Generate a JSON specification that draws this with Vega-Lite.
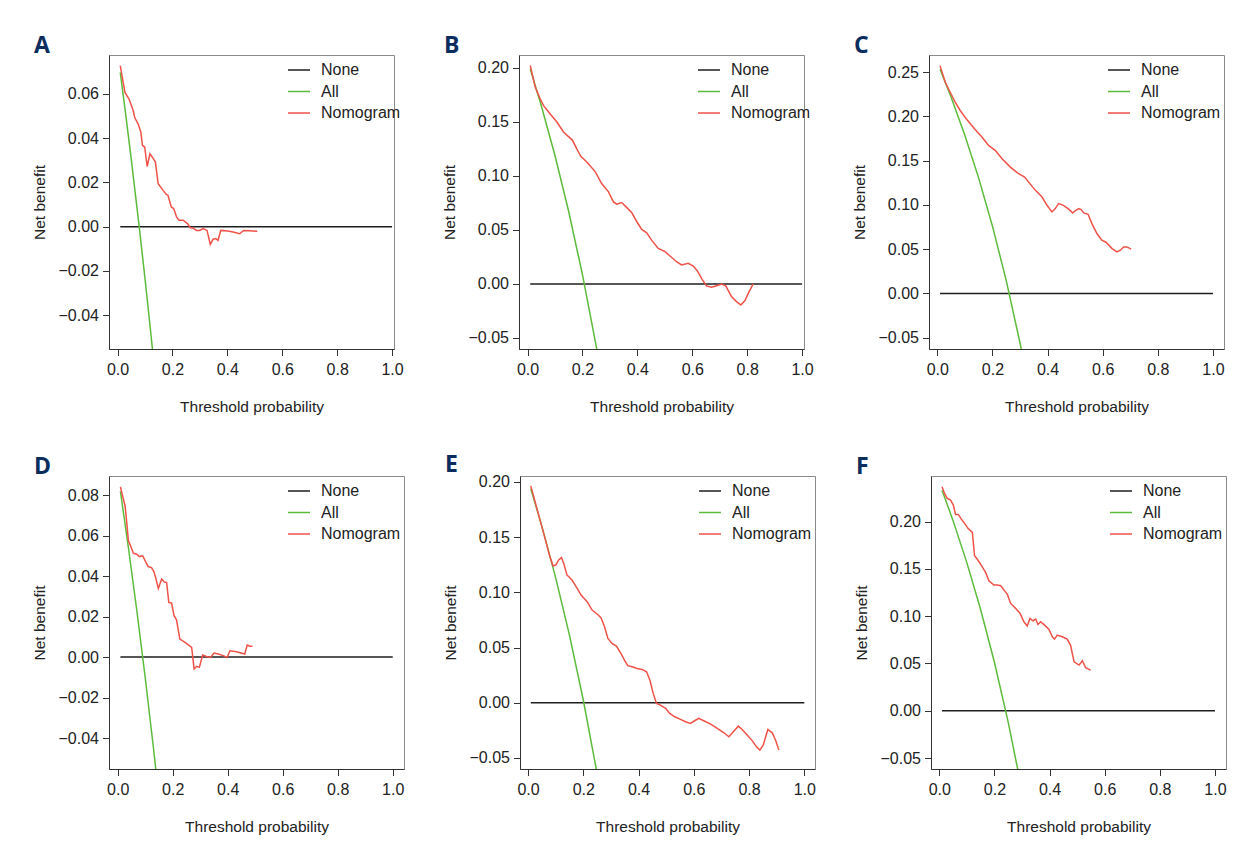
{
  "$schema": "https://vega.github.io/schema/vega-lite/v6.json",
  "padding": {"left": 31, "top": 34, "right": 5, "bottom": 5},
  "background": "white",
  "config": {
    "view": {"stroke": "#8a8a8a", "strokeWidth": 1},
    "axis": {
      "labelFont": "Liberation Sans", "titleFont": "Liberation Sans",
      "labelFontSize": 16, "titleFontSize": 15.5, "titleFontWeight": "normal",
      "labelColor": "#222", "titleColor": "#222",
      "tickColor": "#333", "domainColor": "#333", "tickSize": 6.5, "grid": false
    },
    "axisX": {"titlePadding": 22, "labelPadding": 6},
    "axisY": {"titlePadding": 11, "labelPadding": 4},
    "legend": {
      "orient": "none", "legendX": 178, "legendY": 3, "title": null,
      "symbolType": "stroke", "symbolSize": 484, "symbolStrokeWidth": 1.6,
      "labelFont": "Liberation Sans", "labelFontSize": 16, "labelColor": "#222", "labelOffset": 10,
      "padding": 0, "rowPadding": 1.5
    },
    "title": {
      "anchor": "start", "frame": "group", "dx": -75, "offset": -3, "baseline": "alphabetic",
      "font": "Open Sans", "fontSize": 23, "fontWeight": "bold", "color": "#0b2d5e"
    },
    "line": {"strokeWidth": 1.5}
  },
  "datasets": {
    "dca": [
      {"panel":"A","series":"None","threshold":0.01,"net_benefit":0},
      {"panel":"A","series":"None","threshold":1.0,"net_benefit":0},
      {"panel":"A","series":"All","threshold":0.01,"net_benefit":0.0697},
      {"panel":"A","series":"All","threshold":0.03,"net_benefit":0.0505},
      {"panel":"A","series":"All","threshold":0.05,"net_benefit":0.0305},
      {"panel":"A","series":"All","threshold":0.08,"net_benefit":-0.0011},
      {"panel":"A","series":"All","threshold":0.10,"net_benefit":-0.0233},
      {"panel":"A","series":"All","threshold":0.12,"net_benefit":-0.0466},
      {"panel":"A","series":"All","threshold":0.14,"net_benefit":-0.0709},
      {"panel":"A","series":"Nomogram","threshold":0.01,"net_benefit":0.0728},
      {"panel":"A","series":"Nomogram","threshold":0.027,"net_benefit":0.0607},
      {"panel":"A","series":"Nomogram","threshold":0.042,"net_benefit":0.0577},
      {"panel":"A","series":"Nomogram","threshold":0.057,"net_benefit":0.0525},
      {"panel":"A","series":"Nomogram","threshold":0.063,"net_benefit":0.0492},
      {"panel":"A","series":"Nomogram","threshold":0.075,"net_benefit":0.0465},
      {"panel":"A","series":"Nomogram","threshold":0.085,"net_benefit":0.0427},
      {"panel":"A","series":"Nomogram","threshold":0.091,"net_benefit":0.0367},
      {"panel":"A","series":"Nomogram","threshold":0.099,"net_benefit":0.036},
      {"panel":"A","series":"Nomogram","threshold":0.108,"net_benefit":0.0272},
      {"panel":"A","series":"Nomogram","threshold":0.118,"net_benefit":0.0329},
      {"panel":"A","series":"Nomogram","threshold":0.127,"net_benefit":0.0314},
      {"panel":"A","series":"Nomogram","threshold":0.138,"net_benefit":0.0292},
      {"panel":"A","series":"Nomogram","threshold":0.148,"net_benefit":0.0194},
      {"panel":"A","series":"Nomogram","threshold":0.166,"net_benefit":0.0164},
      {"panel":"A","series":"Nomogram","threshold":0.178,"net_benefit":0.0146},
      {"panel":"A","series":"Nomogram","threshold":0.184,"net_benefit":0.0141},
      {"panel":"A","series":"Nomogram","threshold":0.196,"net_benefit":0.0089},
      {"panel":"A","series":"Nomogram","threshold":0.205,"net_benefit":0.0081},
      {"panel":"A","series":"Nomogram","threshold":0.215,"net_benefit":0.0044},
      {"panel":"A","series":"Nomogram","threshold":0.224,"net_benefit":0.0029},
      {"panel":"A","series":"Nomogram","threshold":0.239,"net_benefit":0.0029},
      {"panel":"A","series":"Nomogram","threshold":0.255,"net_benefit":0.0014},
      {"panel":"A","series":"Nomogram","threshold":0.265,"net_benefit":-0.0005},
      {"panel":"A","series":"Nomogram","threshold":0.275,"net_benefit":-0.0006},
      {"panel":"A","series":"Nomogram","threshold":0.287,"net_benefit":-0.0017},
      {"panel":"A","series":"Nomogram","threshold":0.299,"net_benefit":-0.0017},
      {"panel":"A","series":"Nomogram","threshold":0.312,"net_benefit":-0.0009},
      {"panel":"A","series":"Nomogram","threshold":0.326,"net_benefit":-0.0017},
      {"panel":"A","series":"Nomogram","threshold":0.338,"net_benefit":-0.008},
      {"panel":"A","series":"Nomogram","threshold":0.348,"net_benefit":-0.0057},
      {"panel":"A","series":"Nomogram","threshold":0.358,"net_benefit":-0.0054},
      {"panel":"A","series":"Nomogram","threshold":0.366,"net_benefit":-0.0062},
      {"panel":"A","series":"Nomogram","threshold":0.376,"net_benefit":-0.0017},
      {"panel":"A","series":"Nomogram","threshold":0.402,"net_benefit":-0.002},
      {"panel":"A","series":"Nomogram","threshold":0.421,"net_benefit":-0.0024},
      {"panel":"A","series":"Nomogram","threshold":0.445,"net_benefit":-0.0032},
      {"panel":"A","series":"Nomogram","threshold":0.459,"net_benefit":-0.0017},
      {"panel":"A","series":"Nomogram","threshold":0.481,"net_benefit":-0.0018},
      {"panel":"A","series":"Nomogram","threshold":0.509,"net_benefit":-0.0021},

      {"panel":"B","series":"None","threshold":0.01,"net_benefit":0},
      {"panel":"B","series":"None","threshold":1.0,"net_benefit":0},
      {"panel":"B","series":"All","threshold":0.01,"net_benefit":0.199},
      {"panel":"B","series":"All","threshold":0.05,"net_benefit":0.1653},
      {"panel":"B","series":"All","threshold":0.10,"net_benefit":0.1189},
      {"panel":"B","series":"All","threshold":0.15,"net_benefit":0.0671},
      {"panel":"B","series":"All","threshold":0.20,"net_benefit":0.0088},
      {"panel":"B","series":"All","threshold":0.25,"net_benefit":-0.0573},
      {"panel":"B","series":"All","threshold":0.27,"net_benefit":-0.0863},
      {"panel":"B","series":"Nomogram","threshold":0.01,"net_benefit":0.2023},
      {"panel":"B","series":"Nomogram","threshold":0.028,"net_benefit":0.1823},
      {"panel":"B","series":"Nomogram","threshold":0.046,"net_benefit":0.1715},
      {"panel":"B","series":"Nomogram","threshold":0.058,"net_benefit":0.1653},
      {"panel":"B","series":"Nomogram","threshold":0.082,"net_benefit":0.1576},
      {"panel":"B","series":"Nomogram","threshold":0.107,"net_benefit":0.15},
      {"panel":"B","series":"Nomogram","threshold":0.131,"net_benefit":0.1407},
      {"panel":"B","series":"Nomogram","threshold":0.164,"net_benefit":0.133},
      {"panel":"B","series":"Nomogram","threshold":0.179,"net_benefit":0.1253},
      {"panel":"B","series":"Nomogram","threshold":0.194,"net_benefit":0.1182},
      {"panel":"B","series":"Nomogram","threshold":0.216,"net_benefit":0.113},
      {"panel":"B","series":"Nomogram","threshold":0.247,"net_benefit":0.1038},
      {"panel":"B","series":"Nomogram","threshold":0.27,"net_benefit":0.093},
      {"panel":"B","series":"Nomogram","threshold":0.295,"net_benefit":0.0853},
      {"panel":"B","series":"Nomogram","threshold":0.313,"net_benefit":0.076},
      {"panel":"B","series":"Nomogram","threshold":0.325,"net_benefit":0.0739},
      {"panel":"B","series":"Nomogram","threshold":0.343,"net_benefit":0.0754},
      {"panel":"B","series":"Nomogram","threshold":0.359,"net_benefit":0.0714},
      {"panel":"B","series":"Nomogram","threshold":0.38,"net_benefit":0.0659},
      {"panel":"B","series":"Nomogram","threshold":0.398,"net_benefit":0.0576},
      {"panel":"B","series":"Nomogram","threshold":0.416,"net_benefit":0.0505},
      {"panel":"B","series":"Nomogram","threshold":0.434,"net_benefit":0.0474},
      {"panel":"B","series":"Nomogram","threshold":0.452,"net_benefit":0.0406},
      {"panel":"B","series":"Nomogram","threshold":0.476,"net_benefit":0.0329},
      {"panel":"B","series":"Nomogram","threshold":0.501,"net_benefit":0.0299},
      {"panel":"B","series":"Nomogram","threshold":0.519,"net_benefit":0.0259},
      {"panel":"B","series":"Nomogram","threshold":0.543,"net_benefit":0.0206},
      {"panel":"B","series":"Nomogram","threshold":0.561,"net_benefit":0.0176},
      {"panel":"B","series":"Nomogram","threshold":0.585,"net_benefit":0.0191},
      {"panel":"B","series":"Nomogram","threshold":0.604,"net_benefit":0.0166},
      {"panel":"B","series":"Nomogram","threshold":0.618,"net_benefit":0.0123},
      {"panel":"B","series":"Nomogram","threshold":0.636,"net_benefit":0.0043},
      {"panel":"B","series":"Nomogram","threshold":0.652,"net_benefit":-0.0018},
      {"panel":"B","series":"Nomogram","threshold":0.67,"net_benefit":-0.0031},
      {"panel":"B","series":"Nomogram","threshold":0.686,"net_benefit":-0.0018},
      {"panel":"B","series":"Nomogram","threshold":0.707,"net_benefit":0.0},
      {"panel":"B","series":"Nomogram","threshold":0.722,"net_benefit":-0.0018},
      {"panel":"B","series":"Nomogram","threshold":0.743,"net_benefit":-0.0117},
      {"panel":"B","series":"Nomogram","threshold":0.761,"net_benefit":-0.0163},
      {"panel":"B","series":"Nomogram","threshold":0.777,"net_benefit":-0.0194},
      {"panel":"B","series":"Nomogram","threshold":0.792,"net_benefit":-0.0154},
      {"panel":"B","series":"Nomogram","threshold":0.807,"net_benefit":-0.0071},
      {"panel":"B","series":"Nomogram","threshold":0.822,"net_benefit":0.0},

      {"panel":"C","series":"None","threshold":0.01,"net_benefit":0},
      {"panel":"C","series":"None","threshold":1.0,"net_benefit":0},
      {"panel":"C","series":"All","threshold":0.01,"net_benefit":0.2535},
      {"panel":"C","series":"All","threshold":0.05,"net_benefit":0.2221},
      {"panel":"C","series":"All","threshold":0.10,"net_benefit":0.1789},
      {"panel":"C","series":"All","threshold":0.15,"net_benefit":0.1306},
      {"panel":"C","series":"All","threshold":0.20,"net_benefit":0.0763},
      {"panel":"C","series":"All","threshold":0.25,"net_benefit":0.0147},
      {"panel":"C","series":"All","threshold":0.30,"net_benefit":-0.0557},
      {"panel":"C","series":"All","threshold":0.32,"net_benefit":-0.0868},
      {"panel":"C","series":"Nomogram","threshold":0.01,"net_benefit":0.2575},
      {"panel":"C","series":"Nomogram","threshold":0.029,"net_benefit":0.2387},
      {"panel":"C","series":"Nomogram","threshold":0.047,"net_benefit":0.2274},
      {"panel":"C","series":"Nomogram","threshold":0.065,"net_benefit":0.2161},
      {"panel":"C","series":"Nomogram","threshold":0.083,"net_benefit":0.2068},
      {"panel":"C","series":"Nomogram","threshold":0.108,"net_benefit":0.1962},
      {"panel":"C","series":"Nomogram","threshold":0.138,"net_benefit":0.185},
      {"panel":"C","series":"Nomogram","threshold":0.162,"net_benefit":0.1767},
      {"panel":"C","series":"Nomogram","threshold":0.186,"net_benefit":0.1673},
      {"panel":"C","series":"Nomogram","threshold":0.21,"net_benefit":0.1617},
      {"panel":"C","series":"Nomogram","threshold":0.235,"net_benefit":0.1522},
      {"panel":"C","series":"Nomogram","threshold":0.265,"net_benefit":0.1428},
      {"panel":"C","series":"Nomogram","threshold":0.295,"net_benefit":0.1353},
      {"panel":"C","series":"Nomogram","threshold":0.317,"net_benefit":0.1316},
      {"panel":"C","series":"Nomogram","threshold":0.338,"net_benefit":0.1233},
      {"panel":"C","series":"Nomogram","threshold":0.356,"net_benefit":0.1165},
      {"panel":"C","series":"Nomogram","threshold":0.38,"net_benefit":0.109},
      {"panel":"C","series":"Nomogram","threshold":0.398,"net_benefit":0.0996},
      {"panel":"C","series":"Nomogram","threshold":0.416,"net_benefit":0.0921},
      {"panel":"C","series":"Nomogram","threshold":0.428,"net_benefit":0.0959},
      {"panel":"C","series":"Nomogram","threshold":0.44,"net_benefit":0.1015},
      {"panel":"C","series":"Nomogram","threshold":0.458,"net_benefit":0.0996},
      {"panel":"C","series":"Nomogram","threshold":0.479,"net_benefit":0.0947},
      {"panel":"C","series":"Nomogram","threshold":0.491,"net_benefit":0.091},
      {"panel":"C","series":"Nomogram","threshold":0.503,"net_benefit":0.094},
      {"panel":"C","series":"Nomogram","threshold":0.513,"net_benefit":0.0959},
      {"panel":"C","series":"Nomogram","threshold":0.522,"net_benefit":0.0947},
      {"panel":"C","series":"Nomogram","threshold":0.531,"net_benefit":0.091},
      {"panel":"C","series":"Nomogram","threshold":0.547,"net_benefit":0.0895},
      {"panel":"C","series":"Nomogram","threshold":0.561,"net_benefit":0.0789},
      {"panel":"C","series":"Nomogram","threshold":0.579,"net_benefit":0.0677},
      {"panel":"C","series":"Nomogram","threshold":0.597,"net_benefit":0.0601},
      {"panel":"C","series":"Nomogram","threshold":0.612,"net_benefit":0.0579},
      {"panel":"C","series":"Nomogram","threshold":0.634,"net_benefit":0.0507},
      {"panel":"C","series":"Nomogram","threshold":0.652,"net_benefit":0.047},
      {"panel":"C","series":"Nomogram","threshold":0.664,"net_benefit":0.0489},
      {"panel":"C","series":"Nomogram","threshold":0.676,"net_benefit":0.0526},
      {"panel":"C","series":"Nomogram","threshold":0.688,"net_benefit":0.0526},
      {"panel":"C","series":"Nomogram","threshold":0.703,"net_benefit":0.05},

      {"panel":"D","series":"None","threshold":0.01,"net_benefit":0},
      {"panel":"D","series":"None","threshold":1.0,"net_benefit":0},
      {"panel":"D","series":"All","threshold":0.01,"net_benefit":0.0818},
      {"panel":"D","series":"All","threshold":0.04,"net_benefit":0.0531},
      {"panel":"D","series":"All","threshold":0.07,"net_benefit":0.0226},
      {"panel":"D","series":"All","threshold":0.10,"net_benefit":-0.01},
      {"panel":"D","series":"All","threshold":0.13,"net_benefit":-0.0448},
      {"panel":"D","series":"All","threshold":0.15,"net_benefit":-0.0694},
      {"panel":"D","series":"Nomogram","threshold":0.01,"net_benefit":0.084},
      {"panel":"D","series":"Nomogram","threshold":0.018,"net_benefit":0.0795},
      {"panel":"D","series":"Nomogram","threshold":0.027,"net_benefit":0.0746},
      {"panel":"D","series":"Nomogram","threshold":0.033,"net_benefit":0.0664},
      {"panel":"D","series":"Nomogram","threshold":0.039,"net_benefit":0.0574},
      {"panel":"D","series":"Nomogram","threshold":0.047,"net_benefit":0.0549},
      {"panel":"D","series":"Nomogram","threshold":0.057,"net_benefit":0.0513},
      {"panel":"D","series":"Nomogram","threshold":0.069,"net_benefit":0.0508},
      {"panel":"D","series":"Nomogram","threshold":0.079,"net_benefit":0.0496},
      {"panel":"D","series":"Nomogram","threshold":0.091,"net_benefit":0.05},
      {"panel":"D","series":"Nomogram","threshold":0.102,"net_benefit":0.047},
      {"panel":"D","series":"Nomogram","threshold":0.111,"net_benefit":0.0447},
      {"panel":"D","series":"Nomogram","threshold":0.123,"net_benefit":0.0442},
      {"panel":"D","series":"Nomogram","threshold":0.132,"net_benefit":0.0421},
      {"panel":"D","series":"Nomogram","threshold":0.138,"net_benefit":0.0393},
      {"panel":"D","series":"Nomogram","threshold":0.148,"net_benefit":0.0339},
      {"panel":"D","series":"Nomogram","threshold":0.16,"net_benefit":0.0385},
      {"panel":"D","series":"Nomogram","threshold":0.169,"net_benefit":0.0371},
      {"panel":"D","series":"Nomogram","threshold":0.178,"net_benefit":0.0368},
      {"panel":"D","series":"Nomogram","threshold":0.186,"net_benefit":0.027},
      {"panel":"D","series":"Nomogram","threshold":0.196,"net_benefit":0.0266},
      {"panel":"D","series":"Nomogram","threshold":0.205,"net_benefit":0.0204},
      {"panel":"D","series":"Nomogram","threshold":0.214,"net_benefit":0.0184},
      {"panel":"D","series":"Nomogram","threshold":0.226,"net_benefit":0.0089},
      {"panel":"D","series":"Nomogram","threshold":0.245,"net_benefit":0.0072},
      {"panel":"D","series":"Nomogram","threshold":0.269,"net_benefit":0.0048},
      {"panel":"D","series":"Nomogram","threshold":0.278,"net_benefit":-0.0059},
      {"panel":"D","series":"Nomogram","threshold":0.287,"net_benefit":-0.0046},
      {"panel":"D","series":"Nomogram","threshold":0.297,"net_benefit":-0.0051},
      {"panel":"D","series":"Nomogram","threshold":0.309,"net_benefit":0.001},
      {"panel":"D","series":"Nomogram","threshold":0.323,"net_benefit":0.0003},
      {"panel":"D","series":"Nomogram","threshold":0.338,"net_benefit":-0.0002},
      {"panel":"D","series":"Nomogram","threshold":0.35,"net_benefit":0.002},
      {"panel":"D","series":"Nomogram","threshold":0.366,"net_benefit":0.0015},
      {"panel":"D","series":"Nomogram","threshold":0.384,"net_benefit":0.0007},
      {"panel":"D","series":"Nomogram","threshold":0.398,"net_benefit":-0.0002},
      {"panel":"D","series":"Nomogram","threshold":0.408,"net_benefit":0.0031},
      {"panel":"D","series":"Nomogram","threshold":0.432,"net_benefit":0.0026},
      {"panel":"D","series":"Nomogram","threshold":0.462,"net_benefit":0.0015},
      {"panel":"D","series":"Nomogram","threshold":0.471,"net_benefit":0.0059},
      {"panel":"D","series":"Nomogram","threshold":0.481,"net_benefit":0.0053},
      {"panel":"D","series":"Nomogram","threshold":0.49,"net_benefit":0.0053},

      {"panel":"E","series":"None","threshold":0.01,"net_benefit":0},
      {"panel":"E","series":"None","threshold":1.0,"net_benefit":0},
      {"panel":"E","series":"All","threshold":0.01,"net_benefit":0.1939},
      {"panel":"E","series":"All","threshold":0.05,"net_benefit":0.16},
      {"panel":"E","series":"All","threshold":0.10,"net_benefit":0.1133},
      {"panel":"E","series":"All","threshold":0.15,"net_benefit":0.0612},
      {"panel":"E","series":"All","threshold":0.20,"net_benefit":0.0025},
      {"panel":"E","series":"All","threshold":0.25,"net_benefit":-0.064},
      {"panel":"E","series":"Nomogram","threshold":0.01,"net_benefit":0.1965},
      {"panel":"E","series":"Nomogram","threshold":0.027,"net_benefit":0.1808},
      {"panel":"E","series":"Nomogram","threshold":0.045,"net_benefit":0.1641},
      {"panel":"E","series":"Nomogram","threshold":0.063,"net_benefit":0.1475},
      {"panel":"E","series":"Nomogram","threshold":0.079,"net_benefit":0.1324},
      {"panel":"E","series":"Nomogram","threshold":0.091,"net_benefit":0.1239},
      {"panel":"E","series":"Nomogram","threshold":0.101,"net_benefit":0.1248},
      {"panel":"E","series":"Nomogram","threshold":0.111,"net_benefit":0.1294},
      {"panel":"E","series":"Nomogram","threshold":0.121,"net_benefit":0.1315},
      {"panel":"E","series":"Nomogram","threshold":0.129,"net_benefit":0.1264},
      {"panel":"E","series":"Nomogram","threshold":0.141,"net_benefit":0.1158},
      {"panel":"E","series":"Nomogram","threshold":0.159,"net_benefit":0.1112},
      {"panel":"E","series":"Nomogram","threshold":0.178,"net_benefit":0.1037},
      {"panel":"E","series":"Nomogram","threshold":0.192,"net_benefit":0.0976},
      {"panel":"E","series":"Nomogram","threshold":0.214,"net_benefit":0.0916},
      {"panel":"E","series":"Nomogram","threshold":0.232,"net_benefit":0.084},
      {"panel":"E","series":"Nomogram","threshold":0.25,"net_benefit":0.0804},
      {"panel":"E","series":"Nomogram","threshold":0.264,"net_benefit":0.0771},
      {"panel":"E","series":"Nomogram","threshold":0.277,"net_benefit":0.0689},
      {"panel":"E","series":"Nomogram","threshold":0.289,"net_benefit":0.0583},
      {"panel":"E","series":"Nomogram","threshold":0.304,"net_benefit":0.0538},
      {"panel":"E","series":"Nomogram","threshold":0.32,"net_benefit":0.0514},
      {"panel":"E","series":"Nomogram","threshold":0.335,"net_benefit":0.0453},
      {"panel":"E","series":"Nomogram","threshold":0.349,"net_benefit":0.0387},
      {"panel":"E","series":"Nomogram","threshold":0.361,"net_benefit":0.0336},
      {"panel":"E","series":"Nomogram","threshold":0.377,"net_benefit":0.0326},
      {"panel":"E","series":"Nomogram","threshold":0.395,"net_benefit":0.0311},
      {"panel":"E","series":"Nomogram","threshold":0.413,"net_benefit":0.0302},
      {"panel":"E","series":"Nomogram","threshold":0.429,"net_benefit":0.0281},
      {"panel":"E","series":"Nomogram","threshold":0.441,"net_benefit":0.0206},
      {"panel":"E","series":"Nomogram","threshold":0.453,"net_benefit":0.0085},
      {"panel":"E","series":"Nomogram","threshold":0.465,"net_benefit":-0.0006},
      {"panel":"E","series":"Nomogram","threshold":0.479,"net_benefit":-0.0021},
      {"panel":"E","series":"Nomogram","threshold":0.498,"net_benefit":-0.0051},
      {"panel":"E","series":"Nomogram","threshold":0.513,"net_benefit":-0.0097},
      {"panel":"E","series":"Nomogram","threshold":0.531,"net_benefit":-0.0127},
      {"panel":"E","series":"Nomogram","threshold":0.552,"net_benefit":-0.0151},
      {"panel":"E","series":"Nomogram","threshold":0.57,"net_benefit":-0.0172},
      {"panel":"E","series":"Nomogram","threshold":0.588,"net_benefit":-0.0187},
      {"panel":"E","series":"Nomogram","threshold":0.603,"net_benefit":-0.0163},
      {"panel":"E","series":"Nomogram","threshold":0.618,"net_benefit":-0.0142},
      {"panel":"E","series":"Nomogram","threshold":0.636,"net_benefit":-0.0163},
      {"panel":"E","series":"Nomogram","threshold":0.661,"net_benefit":-0.0193},
      {"panel":"E","series":"Nomogram","threshold":0.685,"net_benefit":-0.0233},
      {"panel":"E","series":"Nomogram","threshold":0.709,"net_benefit":-0.0272},
      {"panel":"E","series":"Nomogram","threshold":0.727,"net_benefit":-0.0308},
      {"panel":"E","series":"Nomogram","threshold":0.743,"net_benefit":-0.0263},
      {"panel":"E","series":"Nomogram","threshold":0.761,"net_benefit":-0.0212},
      {"panel":"E","series":"Nomogram","threshold":0.775,"net_benefit":-0.0242},
      {"panel":"E","series":"Nomogram","threshold":0.793,"net_benefit":-0.0293},
      {"panel":"E","series":"Nomogram","threshold":0.812,"net_benefit":-0.0345},
      {"panel":"E","series":"Nomogram","threshold":0.827,"net_benefit":-0.0399},
      {"panel":"E","series":"Nomogram","threshold":0.839,"net_benefit":-0.0429},
      {"panel":"E","series":"Nomogram","threshold":0.851,"net_benefit":-0.0384},
      {"panel":"E","series":"Nomogram","threshold":0.868,"net_benefit":-0.0242},
      {"panel":"E","series":"Nomogram","threshold":0.884,"net_benefit":-0.0272},
      {"panel":"E","series":"Nomogram","threshold":0.896,"net_benefit":-0.0339},
      {"panel":"E","series":"Nomogram","threshold":0.908,"net_benefit":-0.0429},

      {"panel":"F","series":"None","threshold":0.01,"net_benefit":0},
      {"panel":"F","series":"None","threshold":1.0,"net_benefit":0},
      {"panel":"F","series":"All","threshold":0.01,"net_benefit":0.2333},
      {"panel":"F","series":"All","threshold":0.05,"net_benefit":0.2011},
      {"panel":"F","series":"All","threshold":0.10,"net_benefit":0.1567},
      {"panel":"F","series":"All","threshold":0.15,"net_benefit":0.1071},
      {"panel":"F","series":"All","threshold":0.20,"net_benefit":0.0513},
      {"panel":"F","series":"All","threshold":0.25,"net_benefit":-0.012},
      {"panel":"F","series":"All","threshold":0.30,"net_benefit":-0.0843},
      {"panel":"F","series":"Nomogram","threshold":0.01,"net_benefit":0.237},
      {"panel":"F","series":"Nomogram","threshold":0.019,"net_benefit":0.2299},
      {"panel":"F","series":"Nomogram","threshold":0.029,"net_benefit":0.2246},
      {"panel":"F","series":"Nomogram","threshold":0.041,"net_benefit":0.2228},
      {"panel":"F","series":"Nomogram","threshold":0.051,"net_benefit":0.2176},
      {"panel":"F","series":"Nomogram","threshold":0.059,"net_benefit":0.2077},
      {"panel":"F","series":"Nomogram","threshold":0.069,"net_benefit":0.2077},
      {"panel":"F","series":"Nomogram","threshold":0.08,"net_benefit":0.2027},
      {"panel":"F","series":"Nomogram","threshold":0.092,"net_benefit":0.1982},
      {"panel":"F","series":"Nomogram","threshold":0.104,"net_benefit":0.1929},
      {"panel":"F","series":"Nomogram","threshold":0.12,"net_benefit":0.1886},
      {"panel":"F","series":"Nomogram","threshold":0.128,"net_benefit":0.164},
      {"panel":"F","series":"Nomogram","threshold":0.14,"net_benefit":0.1594},
      {"panel":"F","series":"Nomogram","threshold":0.152,"net_benefit":0.1541},
      {"panel":"F","series":"Nomogram","threshold":0.168,"net_benefit":0.1463},
      {"panel":"F","series":"Nomogram","threshold":0.18,"net_benefit":0.1375},
      {"panel":"F","series":"Nomogram","threshold":0.198,"net_benefit":0.1329},
      {"panel":"F","series":"Nomogram","threshold":0.21,"net_benefit":0.1329},
      {"panel":"F","series":"Nomogram","threshold":0.223,"net_benefit":0.1322},
      {"panel":"F","series":"Nomogram","threshold":0.235,"net_benefit":0.1276},
      {"panel":"F","series":"Nomogram","threshold":0.247,"net_benefit":0.1231},
      {"panel":"F","series":"Nomogram","threshold":0.259,"net_benefit":0.1135},
      {"panel":"F","series":"Nomogram","threshold":0.277,"net_benefit":0.1083},
      {"panel":"F","series":"Nomogram","threshold":0.293,"net_benefit":0.103},
      {"panel":"F","series":"Nomogram","threshold":0.307,"net_benefit":0.0941},
      {"panel":"F","series":"Nomogram","threshold":0.319,"net_benefit":0.0896},
      {"panel":"F","series":"Nomogram","threshold":0.329,"net_benefit":0.0977},
      {"panel":"F","series":"Nomogram","threshold":0.34,"net_benefit":0.0952},
      {"panel":"F","series":"Nomogram","threshold":0.35,"net_benefit":0.097},
      {"panel":"F","series":"Nomogram","threshold":0.358,"net_benefit":0.0913},
      {"panel":"F","series":"Nomogram","threshold":0.368,"net_benefit":0.0941},
      {"panel":"F","series":"Nomogram","threshold":0.382,"net_benefit":0.0906},
      {"panel":"F","series":"Nomogram","threshold":0.398,"net_benefit":0.086},
      {"panel":"F","series":"Nomogram","threshold":0.41,"net_benefit":0.0783},
      {"panel":"F","series":"Nomogram","threshold":0.418,"net_benefit":0.0758},
      {"panel":"F","series":"Nomogram","threshold":0.428,"net_benefit":0.08},
      {"panel":"F","series":"Nomogram","threshold":0.446,"net_benefit":0.0783},
      {"panel":"F","series":"Nomogram","threshold":0.464,"net_benefit":0.0758},
      {"panel":"F","series":"Nomogram","threshold":0.476,"net_benefit":0.0695},
      {"panel":"F","series":"Nomogram","threshold":0.489,"net_benefit":0.0518},
      {"panel":"F","series":"Nomogram","threshold":0.507,"net_benefit":0.0483},
      {"panel":"F","series":"Nomogram","threshold":0.519,"net_benefit":0.0529},
      {"panel":"F","series":"Nomogram","threshold":0.531,"net_benefit":0.0455},
      {"panel":"F","series":"Nomogram","threshold":0.549,"net_benefit":0.043}
    ]
  },
  "spacing": 37,
  "resolve": {"scale": {"color": "independent"}, "legend": {"color": "independent"}},
  "vconcat": [
    {
      "bounds": "flush",
      "spacing": 125,
      "resolve": {"scale": {"color": "independent"}, "legend": {"color": "independent"}},
      "hconcat": [
        {
          "width": 285, "height": 294,
          "title": {"text": "A"},
          "data": {"name": "dca"},
          "transform": [{"filter": "datum.panel === 'A'"}],
          "mark": {"type": "line", "clip": true},
          "encoding": {
            "x": {"field": "threshold", "type": "quantitative", "scale": {"domain": [-0.031, 1.007], "nice": false, "zero": false}, "axis": {"values": [0, 0.2, 0.4, 0.6, 0.8, 1], "format": ".1f", "title": "Threshold probability"}},
            "y": {"field": "net_benefit", "type": "quantitative", "scale": {"domain": [-0.0553, 0.0776], "nice": false, "zero": false}, "axis": {"values": [-0.04, -0.02, 0, 0.02, 0.04, 0.06], "format": ".2f", "title": "Net benefit"}},
            "color": {"field": "series", "type": "nominal", "scale": {"domain": ["None", "All", "Nomogram"], "range": ["#1e1e1e", "#5dbb3c", "#ef5248"]}}
          }
        },
        {
          "width": 285, "height": 294,
          "title": {"text": "B"},
          "data": {"name": "dca"},
          "transform": [{"filter": "datum.panel === 'B'"}],
          "mark": {"type": "line", "clip": true},
          "encoding": {
            "x": {"field": "threshold", "type": "quantitative", "scale": {"domain": [-0.031, 1.007], "nice": false, "zero": false}, "axis": {"values": [0, 0.2, 0.4, 0.6, 0.8, 1], "format": ".1f", "title": "Threshold probability"}},
            "y": {"field": "net_benefit", "type": "quantitative", "scale": {"domain": [-0.0602, 0.212], "nice": false, "zero": false}, "axis": {"values": [-0.05, 0, 0.05, 0.1, 0.15, 0.2], "format": ".2f", "title": "Net benefit"}},
            "color": {"field": "series", "type": "nominal", "scale": {"domain": ["None", "All", "Nomogram"], "range": ["#1e1e1e", "#5dbb3c", "#ef5248"]}}
          }
        },
        {
          "width": 295, "height": 294,
          "title": {"text": "C"},
          "data": {"name": "dca"},
          "transform": [{"filter": "datum.panel === 'C'"}],
          "mark": {"type": "line", "clip": true},
          "encoding": {
            "x": {"field": "threshold", "type": "quantitative", "scale": {"domain": [-0.03, 1.04], "nice": false, "zero": false}, "axis": {"values": [0, 0.2, 0.4, 0.6, 0.8, 1], "format": ".1f", "title": "Threshold probability"}},
            "y": {"field": "net_benefit", "type": "quantitative", "scale": {"domain": [-0.0628, 0.2695], "nice": false, "zero": false}, "axis": {"values": [-0.05, 0, 0.05, 0.1, 0.15, 0.2, 0.25], "format": ".2f", "title": "Net benefit"}},
            "color": {"field": "series", "type": "nominal", "scale": {"domain": ["None", "All", "Nomogram"], "range": ["#1e1e1e", "#5dbb3c", "#ef5248"]}}
          }
        }
      ]
    },
    {
      "bounds": "flush",
      "spacing": 116,
      "resolve": {"scale": {"color": "independent"}, "legend": {"color": "independent"}},
      "hconcat": [
        {
          "width": 295, "height": 293,
          "title": {"text": "D"},
          "data": {"name": "dca"},
          "transform": [{"filter": "datum.panel === 'D'"}],
          "mark": {"type": "line", "clip": true},
          "encoding": {
            "x": {"field": "threshold", "type": "quantitative", "scale": {"domain": [-0.0315, 1.041], "nice": false, "zero": false}, "axis": {"values": [0, 0.2, 0.4, 0.6, 0.8, 1], "format": ".1f", "title": "Threshold probability"}},
            "y": {"field": "net_benefit", "type": "quantitative", "scale": {"domain": [-0.0553, 0.0894], "nice": false, "zero": false}, "axis": {"values": [-0.04, -0.02, 0, 0.02, 0.04, 0.06, 0.08], "format": ".2f", "title": "Net benefit"}},
            "color": {"field": "series", "type": "nominal", "scale": {"domain": ["None", "All", "Nomogram"], "range": ["#1e1e1e", "#5dbb3c", "#ef5248"]}}
          }
        },
        {
          "width": 295, "height": 293,
          "title": {"text": "E"},
          "data": {"name": "dca"},
          "transform": [{"filter": "datum.panel === 'E'"}],
          "mark": {"type": "line", "clip": true},
          "encoding": {
            "x": {"field": "threshold", "type": "quantitative", "scale": {"domain": [-0.029, 1.0386], "nice": false, "zero": false}, "axis": {"values": [0, 0.2, 0.4, 0.6, 0.8, 1], "format": ".1f", "title": "Threshold probability"}},
            "y": {"field": "net_benefit", "type": "quantitative", "scale": {"domain": [-0.06, 0.2054], "nice": false, "zero": false}, "axis": {"values": [-0.05, 0, 0.05, 0.1, 0.15, 0.2], "format": ".2f", "title": "Net benefit"}},
            "color": {"field": "series", "type": "nominal", "scale": {"domain": ["None", "All", "Nomogram"], "range": ["#1e1e1e", "#5dbb3c", "#ef5248"]}}
          }
        },
        {
          "width": 295, "height": 293,
          "title": {"text": "F"},
          "data": {"name": "dca"},
          "transform": [{"filter": "datum.panel === 'F'"}],
          "mark": {"type": "line", "clip": true},
          "encoding": {
            "x": {"field": "threshold", "type": "quantitative", "scale": {"domain": [-0.03, 1.04], "nice": false, "zero": false}, "axis": {"values": [0, 0.2, 0.4, 0.6, 0.8, 1], "format": ".1f", "title": "Threshold probability"}},
            "y": {"field": "net_benefit", "type": "quantitative", "scale": {"domain": [-0.0616, 0.2483], "nice": false, "zero": false}, "axis": {"values": [-0.05, 0, 0.05, 0.1, 0.15, 0.2], "format": ".2f", "title": "Net benefit"}},
            "color": {"field": "series", "type": "nominal", "scale": {"domain": ["None", "All", "Nomogram"], "range": ["#1e1e1e", "#5dbb3c", "#ef5248"]}}
          }
        }
      ]
    }
  ]
}
